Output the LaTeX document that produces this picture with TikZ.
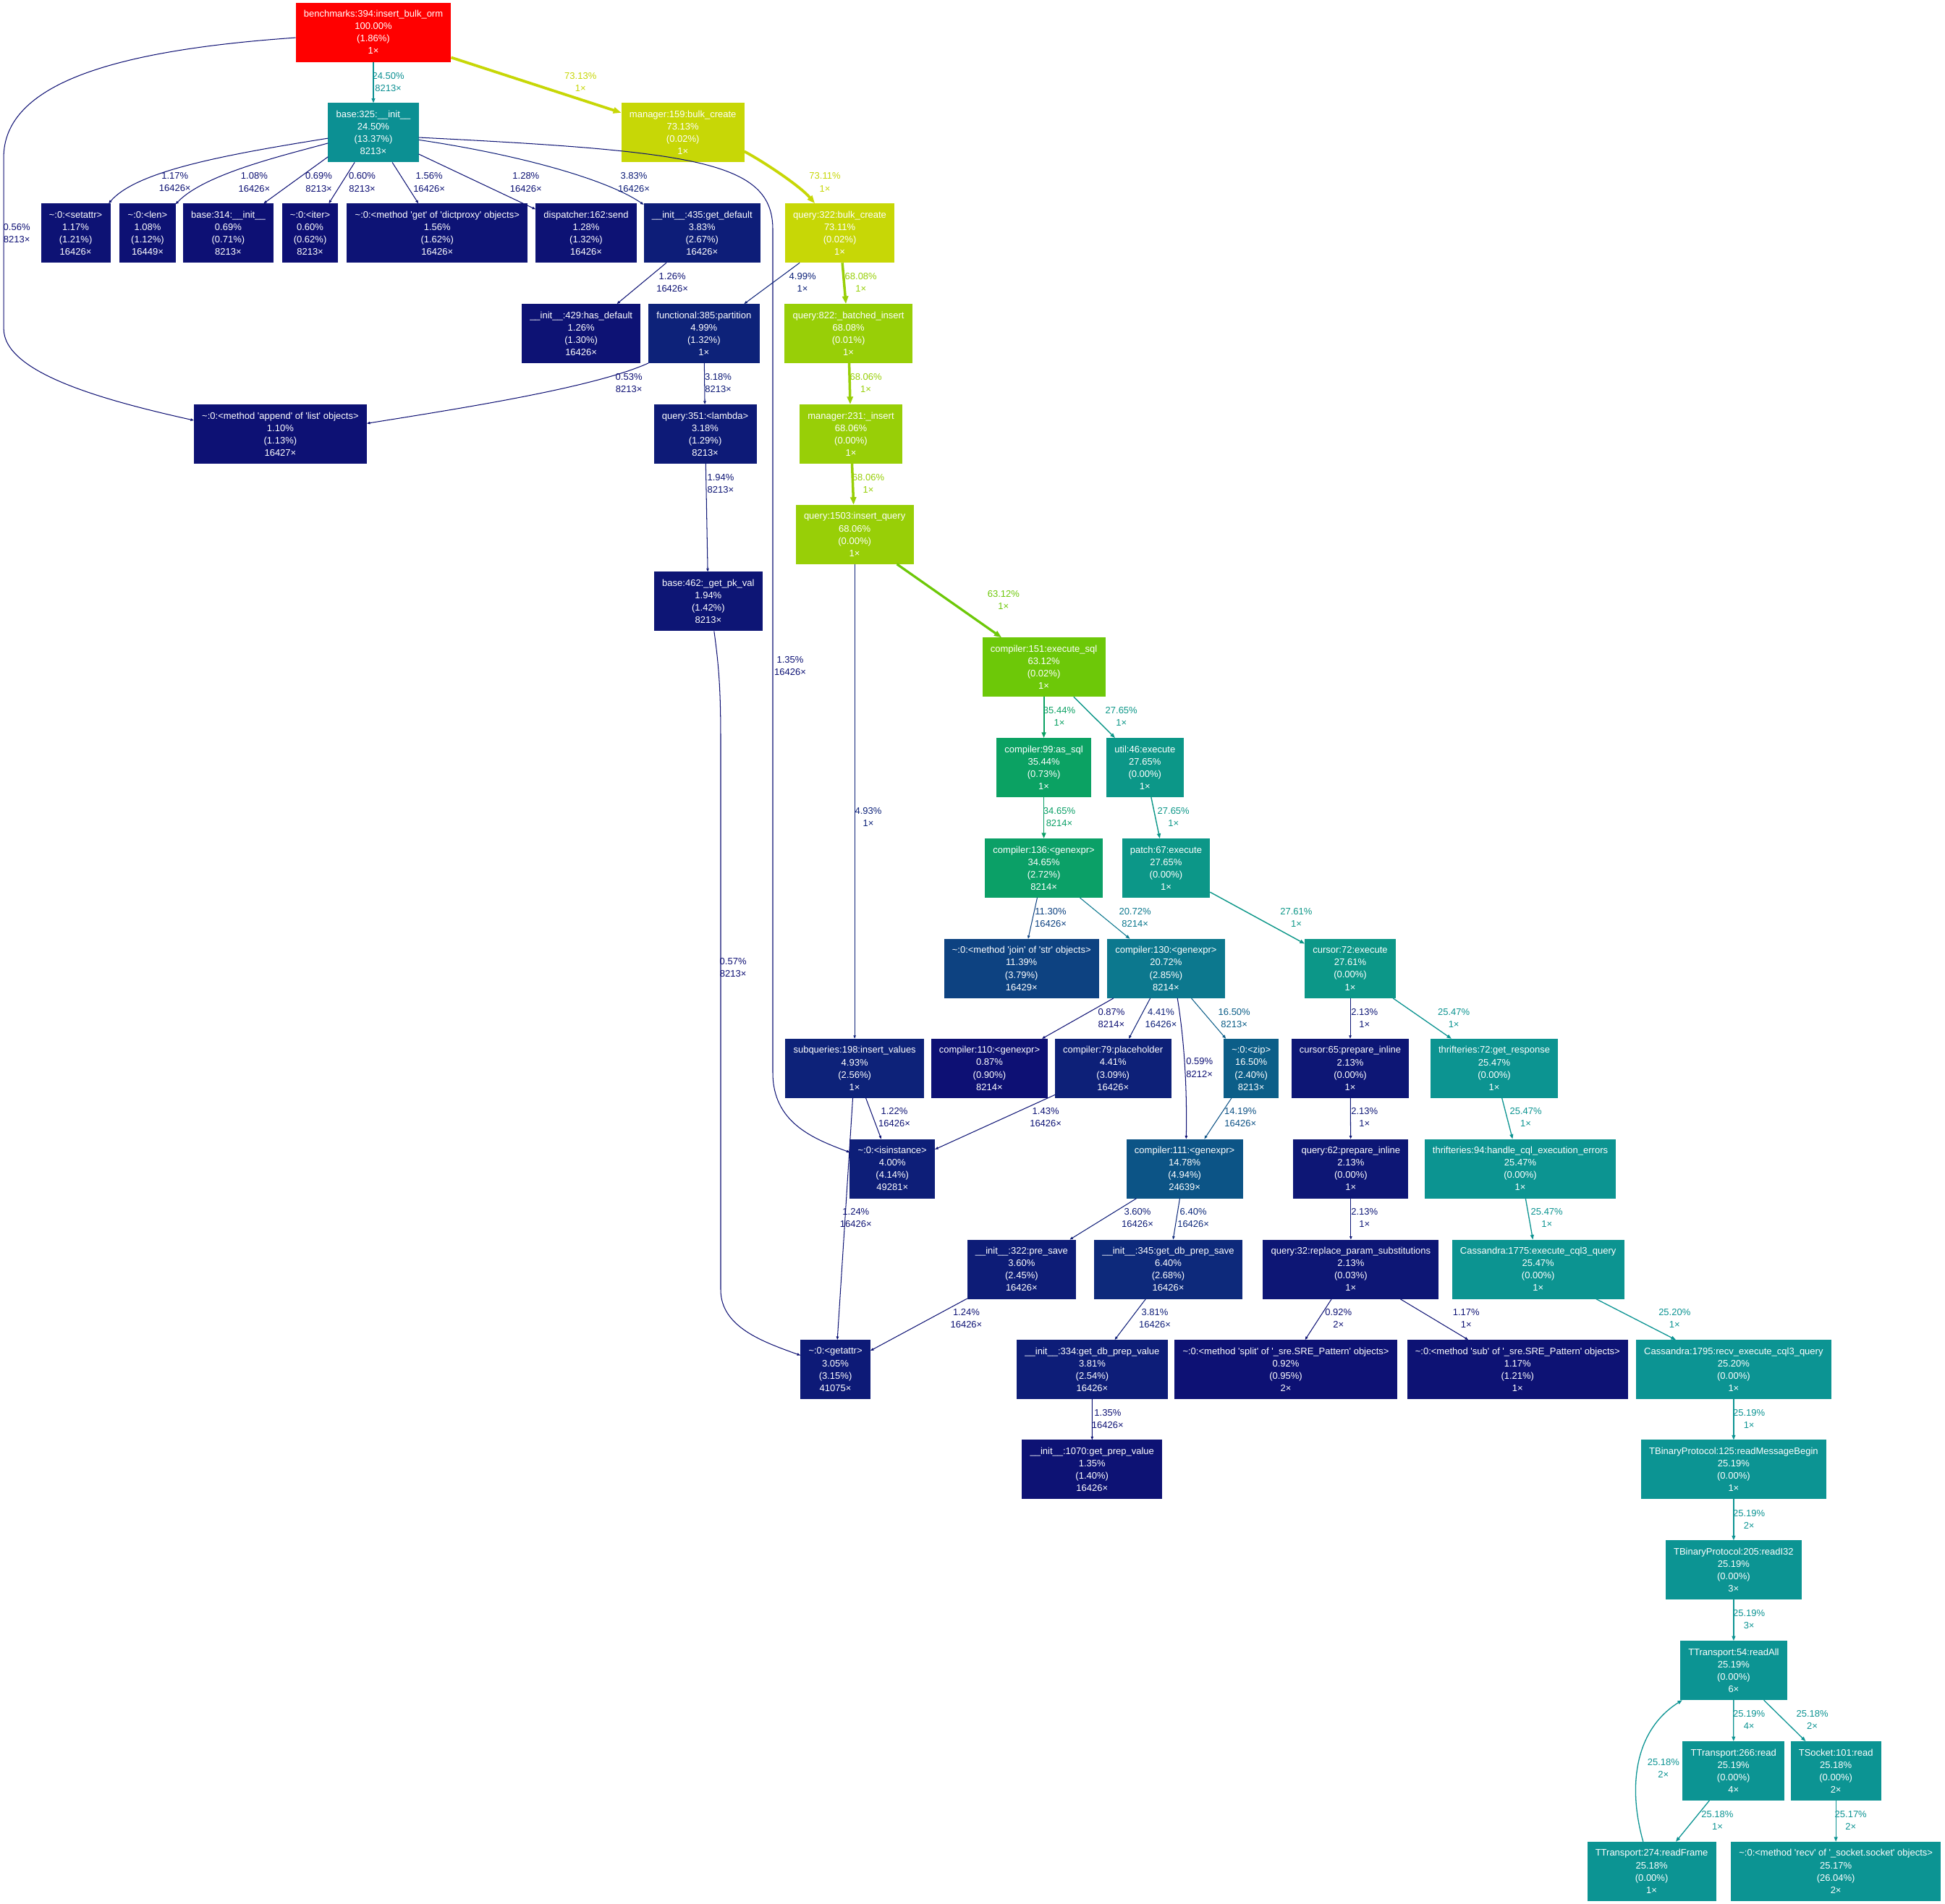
\documentclass[tikz,border=0pt]{standalone}
\usepackage{fontspec}
\setmainfont{Liberation Sans}
\usetikzlibrary{arrows.meta}
% weight 0..1 -> dark blue .. red (HSL ramp, written out as rgb)
\newcommand{\heatch}[2]{%
  \pgfmathsetmacro{\heatx}{mod(#1+1,1)}%
  \pgfmathsetmacro{#2}{\heatx<1/6 ? \heatA+(\heatB-\heatA)*\heatx*6 : (\heatx<0.5 ? \heatB : (\heatx<2/3 ? \heatA+(\heatB-\heatA)*(2/3-\heatx)*6 : \heatA))}%
}
\newcommand{\heat}[2]{%
  \pgfmathsetmacro{\heatH}{2/3*(1-#2)}%
  \pgfmathsetmacro{\heatS}{0.8+0.2*#2}%
  \pgfmathsetmacro{\heatL}{0.25+0.25*#2}%
  \pgfmathsetmacro{\heatB}{\heatL*(1+\heatS)}%
  \pgfmathsetmacro{\heatA}{2*\heatL-\heatB}%
  \heatch{\heatH+1/3}{\heatR}%
  \heatch{\heatH}{\heatG}%
  \heatch{\heatH-1/3}{\heatBl}%
  \definecolor{#1}{rgb}{\heatR,\heatG,\heatBl}%
}
\newcommand{\sq}{\textquotesingle}
\newcommand{\fnbox}[4]{#1\\#2\%\\(#3\%)\\#4×}
\newcommand{\calls}[2]{#1\%\\#2×}
\tikzset{
    fn/.style={/utils/exec={\heat{fncol}{#1}}, rectangle, fill=fncol, draw=fncol, text=white,
        align=center, inner xsep=3pt, inner ysep=0pt, minimum height=0.806cm},
    call/.style={/utils/exec={\heat{callcol}{#1}%
            \pgfmathsetmacro{\callpw}{max(4*#1,0.5)}%
            \pgfmathsetmacro{\callwd}{0.367*max(\callpw,0.8)}%
            \pgfmathsetmacro{\calltip}{1.835*sqrt(\callpw)}%
            \pgfmathsetmacro{\calltipw}{0.75*\calltip}},
        draw=callcol, line width=\callwd pt, -{Triangle[length=\calltip pt, width=\calltipw pt]}},
    lab/.style={/utils/exec={\heat{labcol}{#1}}, text=labcol, align=center, inner sep=0pt},
}
\begin{document}
\begin{tikzpicture}[x=0.017143cm, y=-0.017143cm, font=\fontsize{3.7}{4.86}\selectfont]
    \fill[white] (0,0) rectangle (1568,1535);
    \useasboundingbox (0,0) rectangle (1568,1535);
    % functions
    \node[fn=1.0] (bench) at (301,26) {\fnbox{benchmarks:394:insert\_bulk\_orm}{100.00}{1.86}{1}};
    \node[fn=0.245] (base325) at (301,107) {\fnbox{base:325:\_\_init\_\_}{24.50}{13.37}{8213}};
    \node[fn=0.7313] (manager159) at (550.5,107) {\fnbox{manager:159:bulk\_create}{73.13}{0.02}{1}};
    \node[fn=0.0117] (setattr) at (61,188) {\fnbox{\textasciitilde:0:<setattr>}{1.17}{1.21}{16426}};
    \node[fn=0.0108] (len) at (119,188) {\fnbox{\textasciitilde:0:<len>}{1.08}{1.12}{16449}};
    \node[fn=0.0069] (base314) at (184,188) {\fnbox{base:314:\_\_init\_\_}{0.69}{0.71}{8213}};
    \node[fn=0.0060] (iter) at (250,188) {\fnbox{\textasciitilde:0:<iter>}{0.60}{0.62}{8213}};
    \node[fn=0.0156] (dictproxy) at (352.5,188) {\fnbox{\textasciitilde:0:<method \sq get\sq{} of \sq dictproxy\sq{} objects>}{1.56}{1.62}{16426}};
    \node[fn=0.0128] (dispatcher) at (472.5,188) {\fnbox{dispatcher:162:send}{1.28}{1.32}{16426}};
    \node[fn=0.0383] (getdefault) at (566,188) {\fnbox{\_\_init\_\_:435:get\_default}{3.83}{2.67}{16426}};
    \node[fn=0.7311] (query322) at (677,188) {\fnbox{query:322:bulk\_create}{73.11}{0.02}{1}};
    \node[fn=0.0126] (hasdefault) at (468.5,269) {\fnbox{\_\_init\_\_:429:has\_default}{1.26}{1.30}{16426}};
    \node[fn=0.0499] (partition) at (567.5,269) {\fnbox{functional:385:partition}{4.99}{1.32}{1}};
    \node[fn=0.6808] (batched) at (684,269) {\fnbox{query:822:\_batched\_insert}{68.08}{0.01}{1}};
    \node[fn=0.0110] (append) at (226,350) {\fnbox{\textasciitilde:0:<method \sq append\sq{} of \sq list\sq{} objects>}{1.10}{1.13}{16427}};
    \node[fn=0.0318] (lambda) at (568.5,350) {\fnbox{query:351:<lambda>}{3.18}{1.29}{8213}};
    \node[fn=0.6806] (manager231) at (686,350) {\fnbox{manager:231:\_insert}{68.06}{0.00}{1}};
    \node[fn=0.6806] (query1503) at (689,431) {\fnbox{query:1503:insert\_query}{68.06}{0.00}{1}};
    \node[fn=0.0194] (base462) at (571,485) {\fnbox{base:462:\_get\_pk\_val}{1.94}{1.42}{8213}};
    \node[fn=0.6312] (compiler151) at (841.5,538) {\fnbox{compiler:151:execute\_sql}{63.12}{0.02}{1}};
    \node[fn=0.3544] (compiler99) at (841.5,619) {\fnbox{compiler:99:as\_sql}{35.44}{0.73}{1}};
    \node[fn=0.2765] (util46) at (923,619) {\fnbox{util:46:execute}{27.65}{0.00}{1}};
    \node[fn=0.3465] (compiler136) at (841.5,700) {\fnbox{compiler:136:<genexpr>}{34.65}{2.72}{8214}};
    \node[fn=0.2765] (patch67) at (940,700) {\fnbox{patch:67:execute}{27.65}{0.00}{1}};
    \node[fn=0.1139] (join) at (823.5,781) {\fnbox{\textasciitilde:0:<method \sq join\sq{} of \sq str\sq{} objects>}{11.39}{3.79}{16429}};
    \node[fn=0.2072] (compiler130) at (940,781) {\fnbox{compiler:130:<genexpr>}{20.72}{2.85}{8214}};
    \node[fn=0.2761] (cursor72) at (1088.5,781) {\fnbox{cursor:72:execute}{27.61}{0.00}{1}};
    \node[fn=0.0493] (subqueries) at (689,861.5) {\fnbox{subqueries:198:insert\_values}{4.93}{2.56}{1}};
    \node[fn=0.0087] (compiler110) at (797.7,861.5) {\fnbox{compiler:110:<genexpr>}{0.87}{0.90}{8214}};
    \node[fn=0.0441] (placeholder) at (897.3,861.5) {\fnbox{compiler:79:placeholder}{4.41}{3.09}{16426}};
    \node[fn=0.1650] (zip) at (1008.7,861.5) {\fnbox{\textasciitilde:0:<zip>}{16.50}{2.40}{8213}};
    \node[fn=0.0213] (cursor65) at (1088.5,861.5) {\fnbox{cursor:65:prepare\_inline}{2.13}{0.00}{1}};
    \node[fn=0.2547] (thrift72) at (1204.6,861.5) {\fnbox{thrifteries:72:get\_response}{25.47}{0.00}{1}};
    \node[fn=0.0400] (isinstance) at (719.4,942.4) {\fnbox{\textasciitilde:0:<isinstance>}{4.00}{4.14}{49281}};
    \node[fn=0.1478] (compiler111) at (955,942.4) {\fnbox{compiler:111:<genexpr>}{14.78}{4.94}{24639}};
    \node[fn=0.0213] (query62) at (1089,942.4) {\fnbox{query:62:prepare\_inline}{2.13}{0.00}{1}};
    \node[fn=0.2547] (thrift94) at (1225.6,942.4) {\fnbox{thrifteries:94:handle\_cql\_execution\_errors}{25.47}{0.00}{1}};
    \node[fn=0.0360] (presave) at (823.6,1023.5) {\fnbox{\_\_init\_\_:322:pre\_save}{3.60}{2.45}{16426}};
    \node[fn=0.0640] (getdbprepsave) at (941.8,1023.5) {\fnbox{\_\_init\_\_:345:get\_db\_prep\_save}{6.40}{2.68}{16426}};
    \node[fn=0.0213] (query32) at (1089,1023.5) {\fnbox{query:32:replace\_param\_substitutions}{2.13}{0.03}{1}};
    \node[fn=0.2547] (cass1775) at (1240,1023.5) {\fnbox{Cassandra:1775:execute\_cql3\_query}{25.47}{0.00}{1}};
    \node[fn=0.0305] (getattr) at (673.5,1104.3) {\fnbox{\textasciitilde:0:<getattr>}{3.05}{3.15}{41075}};
    \node[fn=0.0381] (getdbprepvalue) at (880.5,1104.3) {\fnbox{\_\_init\_\_:334:get\_db\_prep\_value}{3.81}{2.54}{16426}};
    \node[fn=0.0092] (split) at (1036.6,1104.3) {\fnbox{\textasciitilde:0:<method \sq split\sq{} of \sq\_sre.SRE\_Pattern\sq{} objects>}{0.92}{0.95}{2}};
    \node[fn=0.0117] (sub) at (1223.4,1104.3) {\fnbox{\textasciitilde:0:<method \sq sub\sq{} of \sq\_sre.SRE\_Pattern\sq{} objects>}{1.17}{1.21}{1}};
    \node[fn=0.2520] (cass1795) at (1397.6,1104.3) {\fnbox{Cassandra:1795:recv\_execute\_cql3\_query}{25.20}{0.00}{1}};
    \node[fn=0.0135] (getprepvalue) at (880.4,1185) {\fnbox{\_\_init\_\_:1070:get\_prep\_value}{1.35}{1.40}{16426}};
    \node[fn=0.2519] (tbinary) at (1397.6,1185) {\fnbox{TBinaryProtocol:125:readMessageBegin}{25.19}{0.00}{1}};
    \node[fn=0.2519] (readI32) at (1397.6,1266) {\fnbox{TBinaryProtocol:205:readI32}{25.19}{0.00}{3}};
    \node[fn=0.2519] (readAll) at (1397.6,1347) {\fnbox{TTransport:54:readAll}{25.19}{0.00}{6}};
    \node[fn=0.2519] (tt266) at (1397.5,1428) {\fnbox{TTransport:266:read}{25.19}{0.00}{4}};
    \node[fn=0.2518] (tsocket) at (1480,1428) {\fnbox{TSocket:101:read}{25.18}{0.00}{2}};
    \node[fn=0.2518] (readFrame) at (1331.5,1509) {\fnbox{TTransport:274:readFrame}{25.18}{0.00}{1}};
    \node[fn=0.2517] (recv) at (1480,1509) {\fnbox{\textasciitilde:0:<method \sq recv\sq{} of \sq\_socket.socket\sq{} objects>}{25.17}{26.04}{2}};
    % calls
    \draw[call=0.245] (bench) -- (base325);
    \draw[call=0.7313] (bench) -- (manager159);
    \draw[call=0.0056] (bench.184) .. controls (100,40) and (5,65) .. (3,125) -- (3,265) .. controls (3,300) and (80,322) .. (append.171);
    \draw[call=0.0117] (base325.187) .. controls (180,125) and (110,138) .. (setattr.42);
    \draw[call=0.0108] (base325.193) .. controls (230,125) and (165,140) .. (len.46);
    \draw[call=0.0069] (base325.208) -- (base314.40);
    \draw[call=0.0060] (base325) -- (iter);
    \draw[call=0.0156] (base325) -- (dictproxy);
    \draw[call=0.0128] (base325) -- (dispatcher);
    \draw[call=0.0383] (base325.351) .. controls (420,125) and (490,145) .. (getdefault.154);
    \draw[call=0.0135] (base325.354) .. controls (560,122) and (623,130) .. (623,185) -- (623,865) .. controls (623,905) and (655,918) .. (isinstance.159);
    \draw[call=0.0126] (getdefault) -- (hasdefault);
    \draw[call=0.7311] (manager159.343) .. controls (615,130) and (645,150) .. (query322.130);
    \draw[call=0.0499] (query322) -- (partition);
    \draw[call=0.6808] (query322) -- (batched);
    \draw[call=0.0053] (partition.208) .. controls (480,312) and (380,328) .. (append.7);
    \draw[call=0.0318] (partition) -- (lambda);
    \draw[call=0.6806] (batched) -- (manager231);
    \draw[call=0.6806] (manager231) -- (query1503);
    \draw[call=0.0194] (lambda) -- (base462);
    \draw[call=0.0057] (base462.281) .. controls (580,540) and (581,560) .. (581,600) -- (581,1040) .. controls (581,1070) and (615,1082) .. (getattr.158);
    \draw[call=0.0493] (query1503) -- (subqueries);
    \draw[call=0.6312] (query1503) -- (compiler151);
    \draw[call=0.3544] (compiler151) -- (compiler99);
    \draw[call=0.2765] (compiler151) -- (util46);
    \draw[call=0.3465] (compiler99) -- (compiler136);
    \draw[call=0.2765] (util46) -- (patch67);
    \draw[call=0.1130] (compiler136) -- (join);
    \draw[call=0.2072] (compiler136) -- (compiler130);
    \draw[call=0.2761] (patch67) -- (cursor72);
    \draw[call=0.0087] (compiler130) -- (compiler110);
    \draw[call=0.0441] (compiler130) -- (placeholder);
    \draw[call=0.0059] (compiler130.291) .. controls (955,840) and (957,880) .. (compiler111.87);
    \draw[call=0.1650] (compiler130) -- (zip);
    \draw[call=0.0213] (cursor72) -- (cursor65);
    \draw[call=0.2547] (cursor72) -- (thrift72);
    \draw[call=0.0122] (subqueries) -- (isinstance);
    \draw[call=0.0124] (subqueries) -- (getattr);
    \draw[call=0.0143] (placeholder) -- (isinstance);
    \draw[call=0.1419] (zip) -- (compiler111);
    \draw[call=0.0213] (cursor65) -- (query62);
    \draw[call=0.2547] (thrift72) -- (thrift94);
    \draw[call=0.0360] (compiler111) -- (presave);
    \draw[call=0.0640] (compiler111) -- (getdbprepsave);
    \draw[call=0.0213] (query62) -- (query32);
    \draw[call=0.2547] (thrift94) -- (cass1775);
    \draw[call=0.0124] (presave) -- (getattr);
    \draw[call=0.0381] (getdbprepsave) -- (getdbprepvalue);
    \draw[call=0.0092] (query32) -- (split);
    \draw[call=0.0117] (query32) -- (sub);
    \draw[call=0.2520] (cass1775) -- (cass1795);
    \draw[call=0.0135] (getdbprepvalue) -- (getprepvalue);
    \draw[call=0.2519] (cass1795) -- (tbinary);
    \draw[call=0.2519] (tbinary) -- (readI32);
    \draw[call=0.2519] (readI32) -- (readAll);
    \draw[call=0.2519] (readAll) -- (tt266);
    \draw[call=0.2518] (readAll) -- (tsocket);
    \draw[call=0.2518] (tt266) -- (readFrame);
    \draw[call=0.2518] (readFrame.106) .. controls (1312,1440) and (1318,1395) .. (readAll.210);
    \draw[call=0.2517] (tsocket) -- (recv);
    % call labels
    \node[lab=0.245] (l1) at (313,66) {\calls{24.50}{8213}};
    \node[lab=0.7313] (l2) at (468,66) {\calls{73.13}{1}};
    \node[lab=0.0056] (l3) at (13.5,188) {\calls{0.56}{8213}};
    \node[lab=0.0117] (l4) at (141,147) {\calls{1.17}{16426}};
    \node[lab=0.0108] (l5) at (205,147) {\calls{1.08}{16426}};
    \node[lab=0.0069] (l6) at (257,147) {\calls{0.69}{8213}};
    \node[lab=0.0060] (l7) at (292,147) {\calls{0.60}{8213}};
    \node[lab=0.0156] (l8) at (346,147) {\calls{1.56}{16426}};
    \node[lab=0.0128] (l9) at (424,147) {\calls{1.28}{16426}};
    \node[lab=0.0383] (l10) at (511,147) {\calls{3.83}{16426}};
    \node[lab=0.0135] (l11) at (637,537) {\calls{1.35}{16426}};
    \node[lab=0.0126] (l12) at (542,228) {\calls{1.26}{16426}};
    \node[lab=0.0499] (l13) at (647,228) {\calls{4.99}{1}};
    \node[lab=0.6808] (l14) at (694,228) {\calls{68.08}{1}};
    \node[lab=0.7311] (l15) at (665,147) {\calls{73.11}{1}};
    \node[lab=0.6806] (l16) at (698,309) {\calls{68.06}{1}};
    \node[lab=0.6806] (l17) at (700,390) {\calls{68.06}{1}};
    \node[lab=0.0053] (l18) at (507,309) {\calls{0.53}{8213}};
    \node[lab=0.0318] (l19) at (579,309) {\calls{3.18}{8213}};
    \node[lab=0.0194] (l20) at (581,390) {\calls{1.94}{8213}};
    \node[lab=0.0057] (l21) at (591,780) {\calls{0.57}{8213}};
    \node[lab=0.0493] (l22) at (700,659) {\calls{4.93}{1}};
    \node[lab=0.6312] (l23) at (809,484) {\calls{63.12}{1}};
    \node[lab=0.3544] (l24) at (854,578) {\calls{35.44}{1}};
    \node[lab=0.2765] (l25) at (904,578) {\calls{27.65}{1}};
    \node[lab=0.3465] (l26) at (854,659) {\calls{34.65}{8214}};
    \node[lab=0.2765] (l27) at (946,659) {\calls{27.65}{1}};
    \node[lab=0.1130] (l28) at (847,740) {\calls{11.30}{16426}};
    \node[lab=0.2072] (l29) at (915,740) {\calls{20.72}{8214}};
    \node[lab=0.2761] (l30) at (1045,740) {\calls{27.61}{1}};
    \node[lab=0.0087] (l31) at (896,821) {\calls{0.87}{8214}};
    \node[lab=0.0441] (l32) at (936,821) {\calls{4.41}{16426}};
    \node[lab=0.0059] (l33) at (967,861) {\calls{0.59}{8212}};
    \node[lab=0.1650] (l34) at (995,821) {\calls{16.50}{8213}};
    \node[lab=0.0213] (l35) at (1100,821) {\calls{2.13}{1}};
    \node[lab=0.2547] (l36) at (1172,821) {\calls{25.47}{1}};
    \node[lab=0.0122] (l37) at (721,901) {\calls{1.22}{16426}};
    \node[lab=0.0124] (l38) at (690,982) {\calls{1.24}{16426}};
    \node[lab=0.0143] (l39) at (843,901) {\calls{1.43}{16426}};
    \node[lab=0.1419] (l40) at (1000,901) {\calls{14.19}{16426}};
    \node[lab=0.0213] (l41) at (1100,901) {\calls{2.13}{1}};
    \node[lab=0.2547] (l42) at (1230,901) {\calls{25.47}{1}};
    \node[lab=0.0360] (l43) at (917,982) {\calls{3.60}{16426}};
    \node[lab=0.0640] (l44) at (962,982) {\calls{6.40}{16426}};
    \node[lab=0.0213] (l45) at (1100,982) {\calls{2.13}{1}};
    \node[lab=0.2547] (l46) at (1247,982) {\calls{25.47}{1}};
    \node[lab=0.0124] (l47) at (779,1063) {\calls{1.24}{16426}};
    \node[lab=0.0381] (l48) at (931,1063) {\calls{3.81}{16426}};
    \node[lab=0.0092] (l49) at (1079,1063) {\calls{0.92}{2}};
    \node[lab=0.0117] (l50) at (1182,1063) {\calls{1.17}{1}};
    \node[lab=0.2520] (l51) at (1350,1063) {\calls{25.20}{1}};
    \node[lab=0.0135] (l52) at (893,1144) {\calls{1.35}{16426}};
    \node[lab=0.2519] (l53) at (1410,1144) {\calls{25.19}{1}};
    \node[lab=0.2519] (l54) at (1410,1225) {\calls{25.19}{2}};
    \node[lab=0.2519] (l55) at (1410,1306) {\calls{25.19}{3}};
    \node[lab=0.2519] (l56) at (1410,1387) {\calls{25.19}{4}};
    \node[lab=0.2518] (l57) at (1461,1387) {\calls{25.18}{2}};
    \node[lab=0.2518] (l58) at (1384.5,1468) {\calls{25.18}{1}};
    \node[lab=0.2518] (l59) at (1341,1426) {\calls{25.18}{2}};
    \node[lab=0.2517] (l60) at (1492,1468) {\calls{25.17}{2}};
\end{tikzpicture}
\end{document}
